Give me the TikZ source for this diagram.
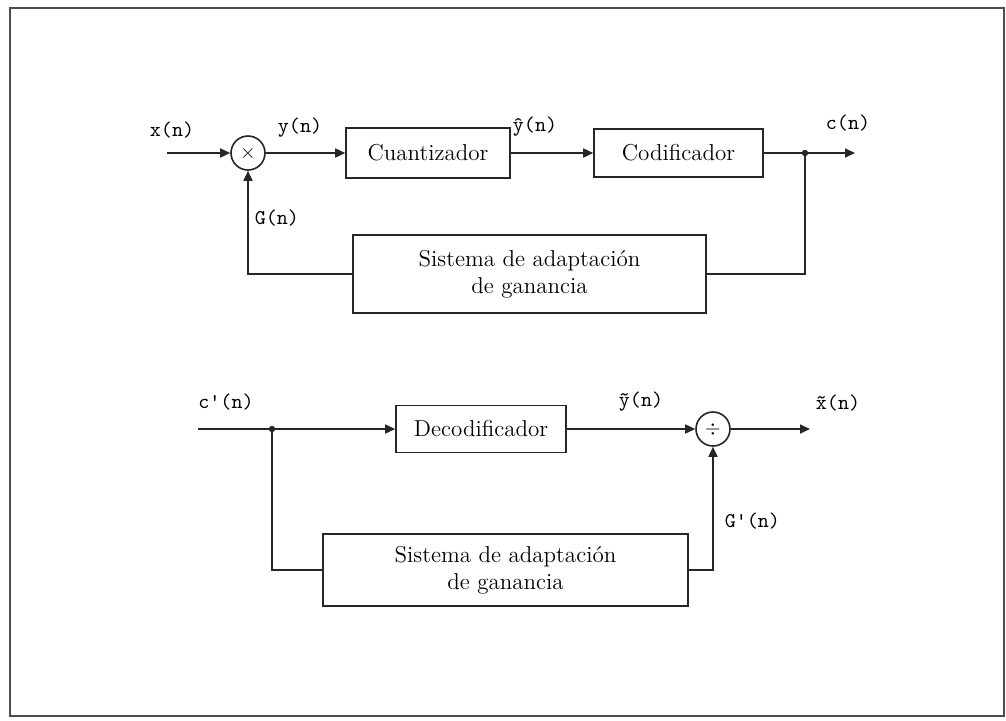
\documentclass[tikz,border=0pt]{standalone}
\usetikzlibrary{arrows.meta}
\begin{document}
\begin{tikzpicture}[x=0.5pt,y=-0.5pt,
  line width=0.8pt, draw=black!85,
  blk/.style={draw, rectangle, inner sep=0pt, align=center, font=\fontsize{11.5}{13.5}\selectfont},
  op/.style={draw, circle, minimum size=17pt, inner sep=0pt, font=\normalsize},
  arr/.style={-{Triangle[length=5pt,width=4.5pt]}},
  lbl/.style={font=\fontsize{10.5}{12}\selectfont\ttfamily, inner sep=1pt},
  dot/.style={fill=black!85}]
\useasboundingbox (0,0) rectangle (1006,720);
\draw[line width=1.2pt, black!70] (10,8) rectangle (1004,716);
% upper chain
\node[op] (mul) at (248,153) {$\times$};
\node[blk, minimum width=82pt, minimum height=25pt] (cuant) at (428,153) {Cuantizador};
\node[blk, minimum width=84.5pt, minimum height=24pt] (cod) at (678.5,153) {Codificador};
\node[blk, minimum width=176.5pt, minimum height=39pt] (sis1) at (529.5,274) {Sistema de adaptación\\de ganancia};
\coordinate (xin) at (167,153);
\coordinate (d1) at (805,153);
\coordinate (cout) at (855,153);
\draw[arr] (xin) -- (mul);
\draw[arr] (mul) -- (cuant);
\draw[arr] (cuant) -- (cod);
\draw (cod) -- (d1);
\draw[arr] (d1) -- (cout);
\fill[dot] (d1) circle (1.6pt);
\draw (d1) |- (sis1.east);
\draw[arr] (sis1.west) -| (mul.south);
\node[lbl] (lx) at (172,130) {x(n)};
\node[lbl] (ly) at (300,128) {y(n)};
\node[lbl] (lyh) at (535,127) {\^{y}(n)};
\node[lbl] (lc) at (848,123) {c(n)};
\node[lbl, anchor=west] (lg) at (252,218) {G(n)};
% lower chain
\node[blk, minimum width=85pt, minimum height=23.5pt] (dec) at (481,429) {Decodificador};
\node[op] (dv) at (713,429) {$\div$};
\node[blk, minimum width=182.5pt, minimum height=36pt] (sis2) at (505.5,570) {Sistema de adaptación\\de ganancia};
\coordinate (cin) at (198,429);
\coordinate (d2) at (272,429);
\coordinate (xout) at (810,429);
\draw (cin) -- (d2);
\draw[arr] (d2) -- (dec);
\fill[dot] (d2) circle (1.6pt);
\draw (d2) |- (sis2.west);
\draw[arr] (dec) -- (dv);
\draw[arr] (sis2.east) -| (dv.south);
\draw[arr] (dv) -- (xout);
\node[lbl] (lcp) at (226,402) {c'(n)};
\node[lbl] (lyt) at (641,402) {\~{y}(n)};
\node[lbl] (lxt) at (838,403) {\~{x}(n)};
\node[lbl, anchor=west] (lgp) at (722,521) {G'(n)};
\end{tikzpicture}
\end{document}
